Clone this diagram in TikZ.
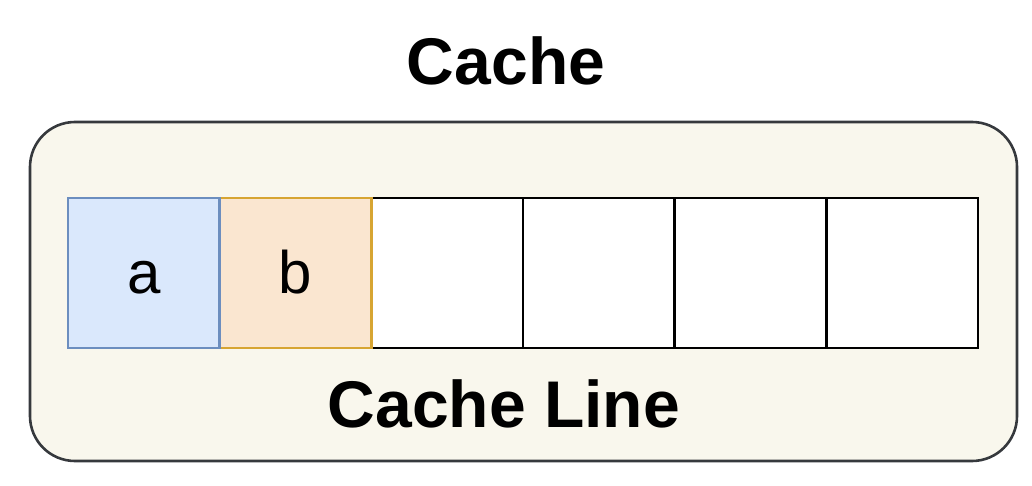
\documentclass[tikz,border=0pt]{standalone}
\usepackage{fontspec}
\setmainfont{Liberation Sans}
\definecolor{outerfill}{HTML}{F9F7ED}
\definecolor{outerdraw}{HTML}{36393D}
\definecolor{bluefill}{HTML}{DAE8FC}
\definecolor{bluedraw}{HTML}{6C8EBF}
\definecolor{orangefill}{HTML}{FAE6D0}
\definecolor{orangedraw}{HTML}{D7A532}
\begin{document}
\begin{tikzpicture}[x=1pt,y=-1pt,
  cell/.style={draw=black,fill=white,line width=2.6pt,minimum width=151.7pt,minimum height=150pt,inner sep=0pt,outer sep=0pt},
  title/.style={font=\fontsize{66}{70}\selectfont\bfseries,anchor=base,inner sep=0pt},
  letter/.style={font=\fontsize{60}{64}\selectfont,anchor=base,inner sep=0pt}]
\useasboundingbox (0,0) rectangle (1032,486);
\node[draw=outerdraw,fill=outerfill,line width=2.6pt,rounded corners=45pt,minimum width=987pt,minimum height=339pt,inner sep=0pt] (outer) at (523.5,291.5) {};
\node[cell,draw=bluedraw,fill=bluefill] (c1) at (143.8,273) {};
\node[cell,draw=orangedraw,fill=orangefill] (c2) at (295.5,273) {};
\node[cell] (c3) at (447.2,273) {};
\node[cell] (c4) at (598.8,273) {};
\node[cell] (c5) at (750.5,273) {};
\node[cell] (c6) at (902.2,273) {};
\node[cell,draw=orangedraw,fill=none] at (295.5,273) {};
\node[cell,draw=bluedraw,fill=none] at (143.8,273) {};
\node[letter] (a) at (143.8,293) {a};
\node[letter] (b) at (295.5,293) {b};
\node[title] (t) at (506,85) {Cache};
\node[title] (cl) at (504,427) {Cache Line};
\end{tikzpicture}
\end{document}
